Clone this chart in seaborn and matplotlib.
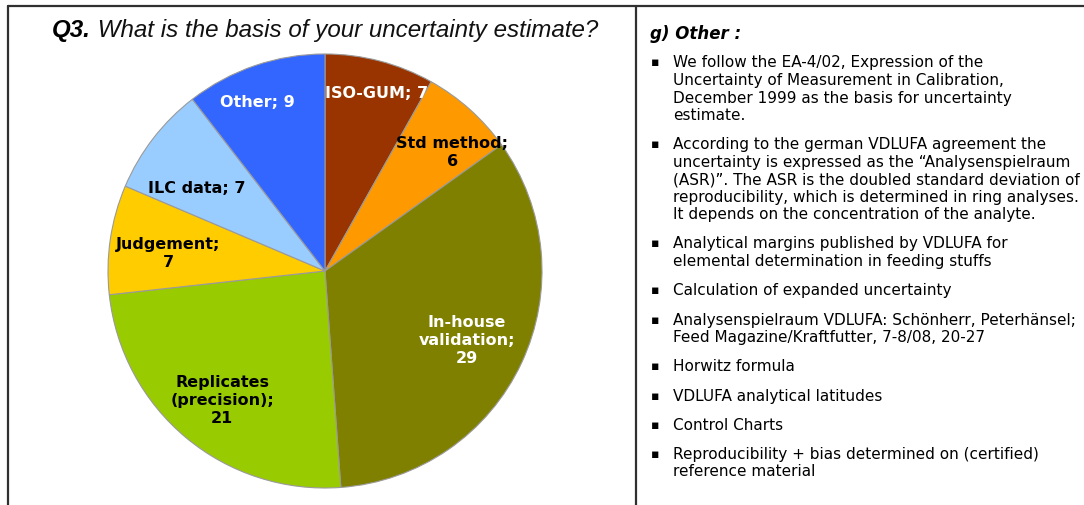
import matplotlib
matplotlib.use("Agg")
import matplotlib.pyplot as plt
from matplotlib.lines import Line2D
import numpy as np
import seaborn as sns

# ---- data ----
categories = ["ISO-GUM", "Std method", "In-house\nvalidation", "Replicates\n(precision)",
              "Judgement", "ILC data", "Other"]
counts = [7, 6, 29, 21, 7, 7, 9]
label_fmt = ["{c}; {v}", "{c};\n{v}", "{c};\n{v}", "{c};\n{v}", "{c};\n{v}", "{c}; {v}", "{c}; {v}"]
colors = ["#993300", "#FF9900", "#808000", "#99CC00", "#FFCC00", "#99CCFF", "#3366FF"]
text_colors = ["white", "black", "white", "black", "black", "black", "white"]
label_radius = [0.857, 0.805, 0.726, 0.76, 0.729, 0.705, 0.84]
label_angle_shift = [1.5, 5.0, 0.5, -1.2, -1.5, -4.4, -3.0]   # clockwise degrees

title_bold = "Q3."
title_rest = " What is the basis of your uncertainty estimate?"
other_heading = "g) Other :"
other_items = [
    ["We follow the EA-4/02, Expression of the",
     "Uncertainty of Measurement in Calibration,",
     "December 1999 as the basis for uncertainty",
     "estimate."],
    ["According to the german VDLUFA agreement the",
     "uncertainty is expressed as the \u201cAnalysenspielraum",
     "(ASR)\u201d. The ASR is the doubled standard deviation of",
     "reproducibility, which is determined in ring analyses.",
     "It depends on the concentration of the analyte."],
    ["Analytical margins published by VDLUFA for",
     "elemental determination in feeding stuffs"],
    ["Calculation of expanded uncertainty"],
    ["Analysenspielraum VDLUFA: Sch\u00f6nherr, Peterh\u00e4nsel;",
     "Feed Magazine/Kraftfutter, 7-8/08, 20-27"],
    ["Horwitz formula"],
    ["VDLUFA analytical latitudes"],
    ["Control Charts"],
    ["Reproducibility + bias determined on (certified)",
     "reference material"],
]

sns.set_theme(style="white")
plt.rcParams["font.family"] = ["DejaVu Sans"]
plt.rcParams["text.color"] = "black"

W, H = 1084, 506
fig = plt.figure(figsize=(W / 100, H / 100), dpi=100)
fig.patch.set_facecolor("white")

# pie axes: center (325, 272), radius 217 px
cx, cy, r = 325, 272, 217
ax = fig.add_axes([(cx - r) / W, (H - cy - r) / H, 2 * r / W, 2 * r / H])
wedges, _ = ax.pie(counts, colors=colors, startangle=90, counterclock=False,
                   radius=1.0, wedgeprops=dict(edgecolor="#9a9a9a", linewidth=0.8))
ax.set_xlim(-1, 1)
ax.set_ylim(-1, 1)
ax.set_aspect("equal")
ax.axis("off")

for w, cat, v, fmt, tc, rr, sh in zip(wedges, categories, counts, label_fmt,
                                      text_colors, label_radius, label_angle_shift):
    ang = np.deg2rad((w.theta1 + w.theta2) / 2 - sh)
    x, y = rr * np.cos(ang), rr * np.sin(ang)
    ax.text(x, y, fmt.format(c=cat, v=v), ha="center", va="center", color=tc,
            fontsize=11.5, fontweight="bold", linespacing=1.25)

# borders
lc = "#303030"
fig.add_artist(Line2D([8 / W, 1.0], [1 - 7 / H, 1 - 7 / H], color=lc, lw=1.6))
fig.add_artist(Line2D([8 / W, 8 / W], [0, 1 - 7 / H], color=lc, lw=1.6))
fig.add_artist(Line2D([636 / W, 636 / W], [0, 1 - 7 / H], color=lc, lw=1.6))

# title
t1 = fig.text(52 / W, 1 - 31 / H, title_bold, fontsize=17.4, fontstyle="italic",
              fontweight="bold", family="Liberation Sans", va="center", ha="left")
fig.canvas.draw()
bb = t1.get_window_extent()
fig.text(bb.x1 / W, 1 - 31 / H, title_rest, fontsize=17.4, fontstyle="italic",
         family="Liberation Sans", va="center", ha="left", color="#111111")

# right panel
fig.text(650 / W, 1 - 34 / H, other_heading, fontsize=12, fontstyle="italic",
         fontweight="bold", va="center", ha="left")
y = 63.0
line_gap, para_gap = 17.5, 29.25
for pi, item in enumerate(other_items):
    fig.text(651 / W, 1 - y / H, "\u25aa", fontsize=9, va="center", ha="left")
    for li, line in enumerate(item):
        fig.text(673 / W, 1 - y / H, line, fontsize=11, va="center", ha="left")
        if li < len(item) - 1:
            y += line_gap
    y += para_gap

fig.savefig("out.png", dpi=100)
